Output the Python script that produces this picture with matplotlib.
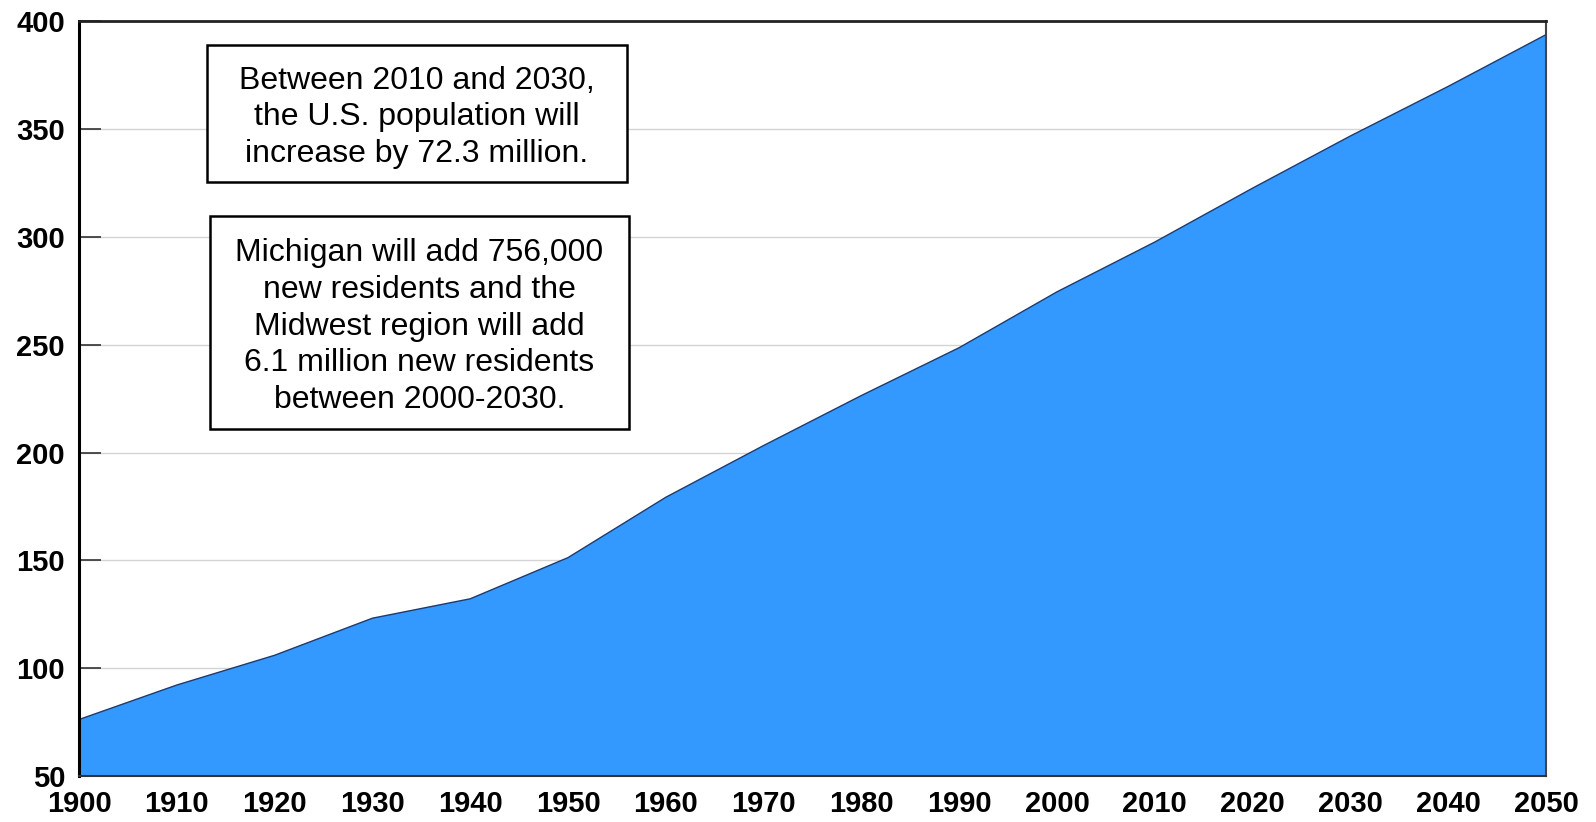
import matplotlib
matplotlib.use("Agg")
import matplotlib.pyplot as plt

plt.rcParams['font.family'] = ['Liberation Sans', 'DejaVu Sans']

years = [1900, 1910, 1920, 1930, 1940, 1950, 1960, 1970, 1980, 1990,
         2000, 2010, 2020, 2030, 2040, 2050]
population = [76.2, 92.2, 106.0, 123.2, 132.2, 151.3, 179.3, 203.3, 226.5,
              248.7, 274.6, 297.7, 322.7, 346.9, 369.9, 393.9]
y_ticks = [50, 100, 150, 200, 250, 300, 350, 400]
x_ticks = years

note_us = "Between 2010 and 2030,\nthe U.S. population will\nincrease by 72.3 million."
note_mi = ("Michigan will add 756,000\nnew residents and the\nMidwest region will add\n"
           "6.1 million new residents\nbetween 2000-2030.")

fig = plt.figure(figsize=(15.96, 8.22), dpi=100)
ax = fig.add_axes([79 / 1596, 1 - 776 / 822, (1546 - 79) / 1596, (776 - 21.5) / 822])

ax.set_xlim(1900, 2050)
ax.set_ylim(50, 400)
ax.set_yticks(y_ticks)
ax.set_xticks(x_ticks)
ax.yaxis.grid(True, color='#d4d4d4', linewidth=1.0)
ax.set_axisbelow(True)

ax.fill_between(years, population, 50, facecolor='#3399ff', edgecolor='none', zorder=2)
ax.plot(years, population, color='#1f3a6e', linewidth=1.0, zorder=3)

ax.tick_params(axis='y', direction='in', length=16, width=1.2, color='#333333',
               labelsize=21, pad=10)
ax.tick_params(axis='x', length=0, labelsize=21, pad=10)
for lbl in ax.get_xticklabels() + ax.get_yticklabels():
    lbl.set_fontweight('bold')

ax.spines['left'].set_linewidth(2.2)
ax.spines['left'].set_color('black')
ax.spines['top'].set_linewidth(2.0)
ax.spines['top'].set_color('#222222')
ax.spines['right'].set_linewidth(1.5)
ax.spines['right'].set_color('#444444')
ax.spines['bottom'].set_linewidth(1.5)
ax.spines['bottom'].set_color('#333333')
for sp in ax.spines.values():
    sp.set_zorder(5)

def box_note(text, x0, y0, x1, y1, text_dy=0):
    # box given in figure pixels, drawn as a rectangle with centred text
    fx0, fx1 = x0 / 1596, x1 / 1596
    fy0, fy1 = 1 - y1 / 822, 1 - y0 / 822
    rect = plt.Rectangle((fx0, fy0), fx1 - fx0, fy1 - fy0, transform=fig.transFigure,
                         facecolor='white', edgecolor='black', linewidth=1.8, zorder=6)
    fig.add_artist(rect)
    fig.text((fx0 + fx1) / 2, (fy0 + fy1) / 2 - text_dy / 822, text,
             ha='center', va='center', fontsize=23, linespacing=1.29, zorder=7)

box_note(note_us, 207, 45, 627, 182, text_dy=4)
box_note(note_mi, 210, 216, 629, 429, text_dy=4)

fig.savefig("out.png", dpi=100)
